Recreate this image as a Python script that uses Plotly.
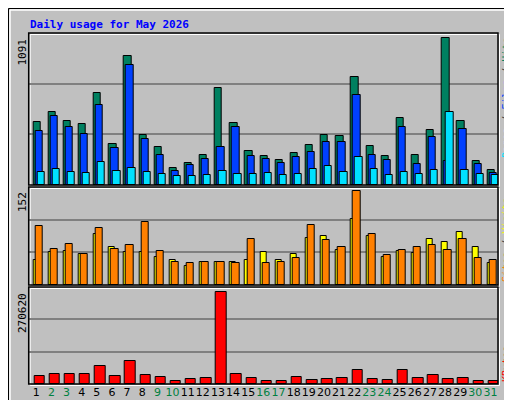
import plotly.graph_objects as go

days = list(range(1, 32))
hits = [469,543,476,454,684,306,958,373,284,128,165,225,721,462,254,217,188,239,299,373,365,802,291,217,499,225,410,1091,476,180,114]
files = [402,513,432,380,595,276,891,343,225,106,151,195,284,432,217,195,165,210,247,321,321,669,225,188,432,158,358,180,417,158,91]
pages = [99,121,99,91,173,106,128,99,84,69,69,77,106,84,84,91,77,84,121,143,99,210,121,77,99,84,114,543,114,84,77]
visits = [41,53,55,50,83,61,53,53,46,41,31,38,38,38,41,53,41,50,76,79,56,107,79,46,55,51,74,69,86,61,36]
sites = [96,59,66,50,93,59,64,102,55,38,36,38,38,36,74,36,38,43,97,73,61,152,83,48,56,61,64,56,74,43,41]
kbytes = [24700,30600,30600,30600,51400,24700,66200,27700,21700,9900,15800,18800,270620,30600,18800,9900,9900,21700,12800,15800,18800,42500,15800,12800,42500,18800,27700,15800,18800,9900,9900]
weekend = {2,3,9,10,16,17,23,24,30,31}

W, H = 512, 400
BG = "#C0C0C0"
line = dict(color="black", width=1)
fig = go.Figure()

def bar(y, color, off, w, xa, ya):
    fig.add_trace(go.Bar(x=days, y=y, marker=dict(color=color, line=line),
                         offset=off, width=w, xaxis=xa, yaxis=ya, showlegend=False))

bar(hits, "#008060", -0.2, 0.48, "x", "y")
bar(files, "#0040FF", -0.066, 0.48, "x", "y")
bar(pages, "#00E0FF", 0.066, 0.48, "x", "y")
bar(visits, "#FFFF00", -0.2, 0.40, "x2", "y2")
bar(sites, "#FF8000", -0.066, 0.48, "x2", "y2")
bar(kbytes, "#FF0000", -0.13, 0.69, "x3", "y3")

def py(p):
    return 1 - p / H

x0, x1 = 20.7 / W, 490 / W
panels = [(25, 177), (179, 277), (279, 376)]
ranges = [1091 * 152 / 147.4, 152 * 96 / 92, 270620 * 96 / 91.4]
lay = dict(width=W, height=H, margin=dict(l=0, r=0, t=0, b=0, autoexpand=False),
           paper_bgcolor=BG, plot_bgcolor=BG, barmode="overlay", bargap=0)
for i, ((t, b), r) in enumerate(zip(panels, ranges)):
    s = "" if i == 0 else str(i + 1)
    lay["xaxis" + s] = dict(domain=[x0, x1], range=[0.5, 31.5], showgrid=False,
                            zeroline=False, showticklabels=(i == 2), ticks="",
                            anchor="y" + s, fixedrange=True, automargin=False,
                            **({} if i == 0 else {"matches": "x"}))
    lay["yaxis" + s] = dict(domain=[py(b), py(t)], range=[0, r], anchor="x" + s,
                            tickvals=[r / 3, 2 * r / 3], showticklabels=False, automargin=False,
                            gridcolor="#808080", gridwidth=1.5, zeroline=False, ticks="")
lay["xaxis3"].update(tickvals=days, tickangle=0,
                     ticktext=[f'<span style="color:{"#008040" if d in weekend else "black"}">{d}</span>' for d in days],
                     tickfont=dict(family="DejaVu Sans", size=11), ticklen=0)
fig.update_layout(**lay)

shapes = [
    dict(type="rect", xref="paper", yref="paper", x0=0.5/W, x1=1-0.5/W, y0=0.5/H, y1=1-0.5/H, line=dict(color="black", width=1)),
    dict(type="line", xref="paper", yref="paper", x0=2/W, x1=2/W, y0=py(397), y1=py(2), line=dict(color="white", width=1.5)),
    dict(type="line", xref="paper", yref="paper", x0=2/W, x1=1-2/W, y0=py(2), y1=py(2), line=dict(color="white", width=1.5)),
    dict(type="line", xref="paper", yref="paper", x0=1-4/W, x1=1-4/W, y0=py(397), y1=py(4), line=dict(color="#808080", width=3)),
    dict(type="line", xref="paper", yref="paper", x0=4/W, x1=1-4/W, y0=py(396), y1=py(396), line=dict(color="#808080", width=3)),
]
for t, b in panels:
    shapes.append(dict(type="rect", xref="paper", yref="paper", x0=x0, x1=x1,
                       y0=py(b), y1=py(t), line=dict(color="black", width=1.5)))
    shapes.append(dict(type="rect", xref="paper", yref="paper", x0=x0 + 1.5/W, x1=x1 + 1.5/W,
                       y0=py(b + 1.5), y1=py(t + 1.5), line=dict(color="white", width=1), layer="below"))
fig.update_layout(shapes=shapes)

mono = "DejaVu Sans Mono"
ann = [
    dict(text="<b>Daily usage for May 2026</b>", x=20/W, y=py(8), xanchor="left", yanchor="top",
         font=dict(family=mono, size=11, color="#0000FF")),
    dict(text="1091", x=14/W, y=py(29), xanchor="center", yanchor="top", textangle=-90,
         font=dict(family=mono, size=11, color="black")),
    dict(text="152", x=14/W, y=py(182), xanchor="center", yanchor="top", textangle=-90,
         font=dict(family=mono, size=11, color="black")),
    dict(text="270620", x=14/W, y=py(283), xanchor="center", yanchor="top", textangle=-90,
         font=dict(family=mono, size=11, color="black")),
    dict(text='<span style="color:#00E0FF">Pages</span> / <span style="color:#0040FF">Files</span> / <span style="color:#008060">Hits</span>',
         x=498/W, y=py(28), xanchor="center", yanchor="top", textangle=-90,
         font=dict(family=mono, size=10, color="#404040")),
    dict(text='<span style="color:#FF8000">Sites</span> / <span style="color:#FFFF00">Visits</span>',
         x=498/W, y=py(276), xanchor="center", yanchor="bottom", textangle=-90,
         font=dict(family=mono, size=10, color="#404040")),
    dict(text='<span style="color:#FF0000">KBytes</span>',
         x=498/W, y=py(376), xanchor="center", yanchor="bottom", textangle=-90,
         font=dict(family=mono, size=10, color="#FF0000")),
]
for a in ann:
    a.update(xref="paper", yref="paper", showarrow=False)
fig.update_layout(annotations=ann)

fig.write_html("out.html", config={"displayModeBar": False})
